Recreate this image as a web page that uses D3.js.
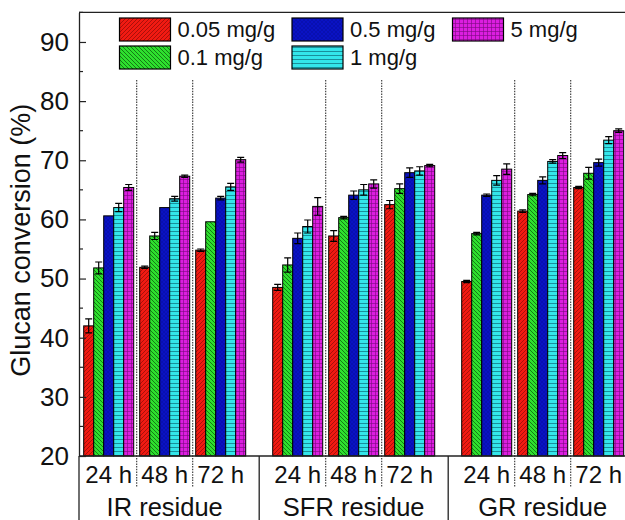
<!DOCTYPE html>
<html>
<head>
<meta charset="utf-8">
<script src="https://cdn.jsdelivr.net/npm/d3@7"></script>
<style>
  html, body { margin: 0; padding: 0; background: #fff; }
  svg { display: block; font-family: "Liberation Sans", Arial, sans-serif; }
</style>
</head>
<body>
<svg id="chart" width="625" height="520"></svg>
<script>
// === Glucan conversion by residue / time / enzyme loading ===

// ---- DATA ----
const residues = ["IR residue", "SFR residue", "GR residue"];
const times    = ["24 h", "48 h", "72 h"];
const doses    = ["0.05 mg/g", "0.1 mg/g", "0.5 mg/g", "1 mg/g", "5 mg/g"];
const yTicks   = [20, 30, 40, 50, 60, 70, 80, 90];

// one row per residue+time, values in dose order
const irValues  = [[42.0, 51.8, 60.6, 62.0, 65.4],
                   [51.9, 57.2, 62.0, 63.5, 67.3],
                   [54.8, 59.6, 63.6, 65.5, 70.1]];
const sfrValues = [[48.5, 52.3, 56.8, 58.8, 62.2],
                   [57.2, 60.3, 64.1, 65.0, 66.0],
                   [62.5, 65.2, 67.9, 68.2, 69.1]];
const grValues  = [[49.5, 57.6, 64.1, 66.6, 68.5],
                   [61.4, 64.2, 66.6, 69.8, 70.8],
                   [65.4, 67.8, 69.6, 73.4, 75.0]];

const irErrors  = [[1.2, 1.0, 0.0, 0.7, 0.5],
                   [0.2, 0.6, 0.0, 0.4, 0.2],
                   [0.2, 0.0, 0.3, 0.6, 0.4]];
const sfrErrors = [[0.5, 1.2, 0.9, 1.1, 1.5],
                   [0.9, 0.2, 0.7, 0.9, 0.7],
                   [0.7, 0.8, 0.8, 0.7, 0.2]];
const grErrors  = [[0.2, 0.2, 0.2, 0.8, 0.9],
                   [0.2, 0.2, 0.6, 0.3, 0.5],
                   [0.2, 1.0, 0.6, 0.6, 0.3]];

const allValues = [irValues, sfrValues, grValues];
const allErrors = [irErrors, sfrErrors, grErrors];

// ---- STYLE ----
const W = 625, H = 520;
const plot = { left: 79, right: 640, top: 12.4, bottom: 456 };
const barsLeft = 83.7, barsRight = 623.7;

const doseStyle = [
  { id: "pRed",     base: "#f21a12", line: "#8a0c08", kind: "fwd"   },
  { id: "pGreen",   base: "#2ee02e", line: "#127012", kind: "back"  },
  { id: "pBlue",    base: "#0a12c4", line: "#050a86", kind: "cross" },
  { id: "pCyan",    base: "#33e6ea", line: "#137a86", kind: "horiz" },
  { id: "pMagenta", base: "#dc1ee0", line: "#7a0a80", kind: "grid"  }
];

const svg = d3.select("#chart");

// ---- PATTERNS ----
const defs = svg.append("defs");
doseStyle.forEach(s => {
  const p = defs.append("pattern")
    .attr("id", s.id)
    .attr("patternUnits", "userSpaceOnUse")
    .attr("width", 4).attr("height", 4);
  p.append("rect").attr("width", 4).attr("height", 4).attr("fill", s.base);
  const ln = (d, w) => p.append("path").attr("d", d)
    .attr("stroke", s.line).attr("stroke-width", w).attr("fill", "none");
  if (s.kind === "fwd")   ln("M-1,1 l2,-2 M0,4 l4,-4 M3,5 l2,-2", 0.7);
  if (s.kind === "back")  ln("M-1,3 l2,2 M0,0 l4,4 M3,-1 l2,2", 0.9);
  if (s.kind === "cross") ln("M0,0 l4,4 M4,0 l-4,4", 0.3);
  if (s.kind === "horiz") ln("M0,3.5 h4", 0.8);
  if (s.kind === "grid")  ln("M0,3.5 h4 M3.5,0 v4", 0.6);
});

// ---- SCALES ----
const y = d3.scaleLinear().domain([20, 95]).range([plot.bottom, plot.top]);

const xRes = d3.scaleBand().domain(residues)
  .range([barsLeft, barsRight]).paddingInner(27 / 189).paddingOuter(0);
const xTime = d3.scaleBand().domain(times)
  .range([0, xRes.bandwidth()]).paddingInner(6 / 56).paddingOuter(0);
const xDose = d3.scaleBand().domain(doses)
  .range([0, xTime.bandwidth()]).padding(0);

// ---- BARS ----
const rows = [];
residues.forEach((r, ri) => times.forEach((t, ti) => doses.forEach((d, di) => {
  rows.push({ r, t, d, di, v: allValues[ri][ti][di], e: allErrors[ri][ti][di] });
})));
const bx = o => xRes(o.r) + xTime(o.t) + xDose(o.d);

const gBars = svg.append("g");
gBars.selectAll("rect").data(rows).enter().append("rect")
  .attr("x", bx)
  .attr("y", o => y(o.v))
  .attr("width", xDose.bandwidth())
  .attr("height", o => y(20) - y(o.v))
  .attr("fill", o => `url(#${doseStyle[o.di].id})`)
  .attr("stroke", "#000")
  .attr("stroke-width", 1);

// error bars
const capW = 3.5;
const gErr = svg.append("g").attr("stroke", "#000").attr("stroke-width", 1.2).attr("fill", "none");
gErr.selectAll("path").data(rows.filter(o => o.e > 0)).enter().append("path")
  .attr("d", o => {
    const cx = bx(o) + xDose.bandwidth() / 2;
    const t = y(o.v + o.e), b = y(o.v - o.e);
    return `M${cx},${t}V${b}M${cx - capW},${t}h${capW * 2}M${cx - capW},${b}h${capW * 2}`;
  });

// ---- DIVIDERS ----
const timeDividers = [];
residues.forEach(r => times.slice(1).forEach(t => {
  timeDividers.push(xRes(r) + xTime(t) - xTime.step() * xTime.paddingInner() / 2);
}));
svg.append("g").selectAll("line").data(timeDividers).enter().append("line")
  .attr("x1", d => d).attr("x2", d => d)
  .attr("y1", 80).attr("y2", 487)
  .attr("stroke", "#333").attr("stroke-width", 1.1)
  .attr("stroke-dasharray", "1.5,1.2");

const resDividers = residues.slice(1).map(r => xRes(r) - xRes.step() * xRes.paddingInner() / 2);
svg.append("g").selectAll("line").data([plot.left].concat(resDividers)).enter().append("line")
  .attr("x1", d => d).attr("x2", d => d)
  .attr("y1", plot.bottom).attr("y2", H)
  .attr("stroke", "#222").attr("stroke-width", 1.3);

// ---- FRAME + AXIS ----
svg.append("line")
  .attr("x1", plot.left).attr("x2", plot.right)
  .attr("y1", plot.top).attr("y2", plot.top)
  .attr("stroke", "#222").attr("stroke-width", 1.3);
svg.append("line")
  .attr("x1", plot.left).attr("x2", plot.right)
  .attr("y1", plot.bottom).attr("y2", plot.bottom)
  .attr("stroke", "#222").attr("stroke-width", 1.3);

const yAxis = svg.append("g")
  .attr("transform", `translate(${plot.left},0)`)
  .call(d3.axisLeft(y).tickValues(yTicks).tickSize(-7).tickPadding(10).tickSizeOuter(0));
yAxis.select(".domain").attr("stroke", "#222").attr("stroke-width", 1.3);
yAxis.selectAll(".tick line").attr("stroke", "#222").attr("stroke-width", 1.2);
yAxis.selectAll("text").attr("font-size", 26).attr("fill", "#111")
  .attr("font-family", "Liberation Sans, Arial, sans-serif");

const minorTicks = d3.range(25, 96, 10);
svg.append("g").selectAll("line").data(minorTicks).enter().append("line")
  .attr("x1", plot.left).attr("x2", plot.left + 4)
  .attr("y1", d => y(d)).attr("y2", d => y(d))
  .attr("stroke", "#222").attr("stroke-width", 1.2);

svg.append("text")
  .attr("transform", `translate(30,${(plot.top + plot.bottom) / 2 + 6}) rotate(-90)`)
  .attr("text-anchor", "middle")
  .attr("font-size", 27).attr("fill", "#111")
  .text("Glucan conversion (%)");

// ---- CATEGORY LABELS ----
const timeLabels = [];
residues.forEach(r => times.forEach(t => timeLabels.push({ r, t })));
svg.append("g").selectAll("text").data(timeLabels).enter().append("text")
  .attr("x", o => xRes(o.r) + xTime(o.t) + xTime.bandwidth() / 2)
  .attr("y", 483)
  .attr("text-anchor", "middle")
  .attr("font-size", 24).attr("fill", "#111")
  .text(o => o.t);

svg.append("g").selectAll("text").data(residues).enter().append("text")
  .attr("x", r => xRes(r) + xRes.bandwidth() / 2)
  .attr("y", 516)
  .attr("text-anchor", "middle")
  .attr("font-size", 25.5).attr("fill", "#111")
  .text(r => r);

// ---- LEGEND ----
const legendCols = [119.5, 292, 452.5];
const legendRows = [18, 46];
const gLeg = svg.append("g");
doses.forEach((d, i) => {
  const lx = legendCols[Math.floor(i / 2)], ly = legendRows[i % 2];
  gLeg.append("rect")
    .attr("x", lx).attr("y", ly).attr("width", 51).attr("height", 23)
    .attr("fill", `url(#${doseStyle[i].id})`)
    .attr("stroke", "#000").attr("stroke-width", 1.2);
  gLeg.append("text")
    .attr("x", lx + 58).attr("y", ly + 19)
    .attr("font-size", 22).attr("fill", "#111")
    .text(d);
});
</script>
</body>
</html>
